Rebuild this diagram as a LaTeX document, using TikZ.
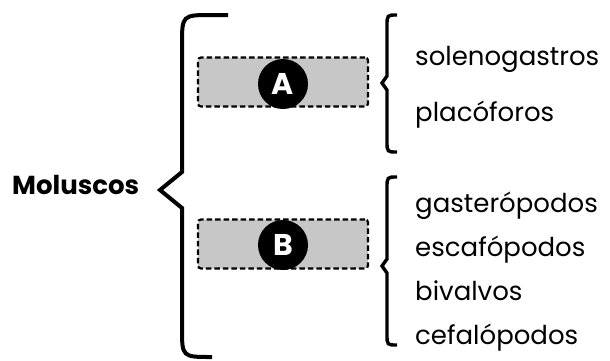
\documentclass[tikz,border=0pt]{standalone}
\usepackage{fontspec}
\setmainfont{Poppins}
\usepackage{tikz}
\usetikzlibrary{arrows}

\tikzset{
  gapbox/.style={draw, dashed, dash pattern=on 5.5pt off 3pt, line width=2.2pt,
    fill=black!22, rounded corners=3pt, minimum width=170pt, minimum height=49pt},
  tag/.style={circle, fill=black, text=white, inner sep=0pt, minimum size=50pt,
    font=\fontsize{30}{30}\selectfont\bfseries},
  group/.style={anchor=base west, inner sep=0pt, font=\fontsize{26}{26}\selectfont},
  bigbrace/.style={line width=4pt, line join=miter},
  smallbrace/.style={line width=3.4pt}
}

\begin{document}
\begin{tikzpicture}[x=1pt,y=-1pt]
\useasboundingbox (0,0) rectangle (610,360);

\node[anchor=base west, inner sep=0pt, font=\fontsize{26}{26}\selectfont\bfseries] (mol) at (12,194) {Moluscos};

% big brace
\draw[bigbrace] (228,15) -- (212,15) .. controls (182,15) .. (182,45)
  -- (182,172) -- (160,190) -- (182,208) -- (182,328)
  .. controls (182,357) .. (212,357);

\node[gapbox] (boxA) at (283,82) {};
\node[tag] (circA) at (283,84) {A};

\node[gapbox] (boxB) at (283,244) {};
\node[tag] (circB) at (283,245) {B};

% small braces
\draw[smallbrace] (397,15) .. controls (387,15) .. (387,26) -- (387,76)
  -- (382,83) -- (387,90) -- (387,141) .. controls (387,152) .. (397,152);
\draw[smallbrace] (397,177) .. controls (387,177) .. (387,188) -- (387,259)
  -- (382,266) -- (387,273) -- (387,334) .. controls (387,345) .. (397,345);

\node[group] (sol) at (415,65) {solenogastros};
\node[group] (pla) at (415,121) {placóforos};

\node[group] (gas) at (415,212) {gasterópodos};
\node[group] (esc) at (415,256) {escafópodos};
\node[group] (biv) at (415,300) {bivalvos};
\node[group] (cef) at (415,344) {cefalópodos};
\end{tikzpicture}
\end{document}
